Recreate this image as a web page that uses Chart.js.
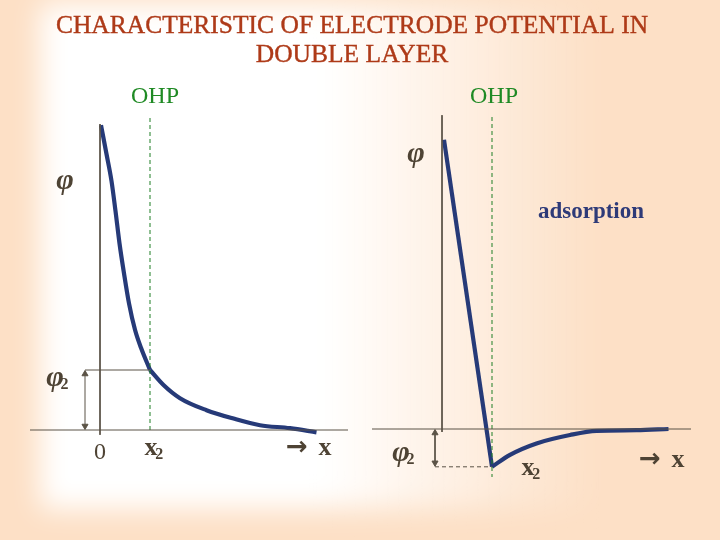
<!DOCTYPE html>
<html>
<head>
<meta charset="utf-8">
<script src="https://cdn.jsdelivr.net/npm/chart.js@4"></script>
<style>
  html, body { margin: 0; padding: 0; }
  body { width: 720px; height: 540px; overflow: hidden; position: relative; background: #fde0c6; }
  .glow {
    position: absolute; left: 40px; top: 4px; width: 560px; height: 505px;
    background: linear-gradient(to right, #ffffff 0%, #ffffff 50%, rgba(255,255,255,0) 100%);
    filter: blur(14px);
  }
  #wrap { position: absolute; left: 0; top: 0; width: 720px; height: 540px; }
</style>
</head>
<body>
<div class="glow"></div>
<div id="wrap"><canvas id="myChart"></canvas></div>
<script>
// left panel: potential falls off smoothly (distance in units of x2, potential in units of phi2)
const leftDistA = [0.02, 0.13, 0.23, 0.31, 0.39, 0.48, 0.58, 0.70, 0.82, 1.0]
const leftPotA  = [5.08, 4.60, 4.15, 3.65, 3.11, 2.61, 2.11, 1.67, 1.37, 1.0]
const leftDistB = [1.0, 1.27, 1.6, 2.13, 2.67, 3.2, 3.8, 4.33]
const leftPotB  = [1.0, 0.75, 0.53, 0.33, 0.19, 0.08, 0.03, -0.04]

// right panel: specific adsorption, potential overshoots below zero
const rightDistA = [0.04, 1.0]
const rightPotA  = [4.82, -0.63]
const rightDistB = [1.0, 1.36, 1.89, 2.56, 3.09, 3.89, 4.53]
const rightPotB  = [-0.63, -0.43, -0.24, -0.1, -0.03, -0.02, 0]

const x2 = 1       // outer Helmholtz plane
const phi2L = 1
const phi2R = -0.63

const toXY = (xs, ys) => xs.map((x, i) => ({ x: x, y: ys[i] }))

const axisColor = '#5b5346'
const curveColor = '#263a78'
const ohpColor = '#1f7f24'
const textColor = '#4e4334'
const serif = '"Liberation Serif", "Times New Roman", serif'

function line(data, color, width, dash, axes) {
  return {
    data: data, borderColor: color, borderWidth: width, borderDash: dash || [],
    pointRadius: 0, tension: 0, xAxisID: axes[0], yAxisID: axes[1]
  }
}
function arrow(u, v0, v1, axes) {
  const inset = 4 / 60
  const s = v1 > v0 ? 1 : -1
  return {
    data: [{ x: u, y: v0 + s * inset }, { x: u, y: v1 - s * inset }],
    borderColor: axisColor, backgroundColor: axisColor, borderWidth: 1,
    pointStyle: 'triangle', pointRadius: 3.5, pointRotation: s > 0 ? [180, 0] : [0, 180],
    tension: 0, xAxisID: axes[0], yAxisID: axes[1]
  }
}
function curve(data, mode, axes) {
  return {
    data: data, borderColor: curveColor, borderWidth: 4.2, pointRadius: 0,
    cubicInterpolationMode: mode, tension: mode === 'monotone' ? 0.4 : 0,
    borderCapStyle: 'butt', borderJoinStyle: 'round', xAxisID: axes[0], yAxisID: axes[1]
  }
}

const L = ['xL', 'yL']
const R = ['xR', 'yR']

const datasets = [
  line([{ x: -1.4, y: 0 }, { x: 4.96, y: 0 }], axisColor, 1, null, L),
  line([{ x: 0, y: 5.1 }, { x: 0, y: -0.08 }], axisColor, 1, null, L),
  line([{ x: x2, y: 5.2 }, { x: x2, y: 0 }], ohpColor, 1, [4, 3], L),
  line([{ x: -0.3, y: phi2L }, { x: x2, y: phi2L }], axisColor, 1, null, L),
  arrow(-0.3, 0, phi2L, L),
  curve(toXY(leftDistA, leftPotA), 'monotone', L),
  curve(toXY(leftDistB, leftPotB), 'monotone', L),

  line([{ x: -1.4, y: 0 }, { x: 4.98, y: 0 }], axisColor, 1, null, R),
  line([{ x: 0, y: 5.23 }, { x: 0, y: -0.05 }], axisColor, 1, null, R),
  line([{ x: x2, y: 5.2 }, { x: x2, y: -0.8 }], ohpColor, 1, [4, 3], R),
  line([{ x: -0.14, y: phi2R }, { x: x2, y: phi2R }], axisColor, 1, [4, 3], R),
  arrow(-0.14, 0, phi2R, R),
  curve(toXY(rightDistA, rightPotA), 'default', R),
  curve(toXY(rightDistB, rightPotB), 'monotone', R)
]

// text annotations, placed in each panel's data units
const phiFont = 'italic bold 30px ' + serif
const xFont = 'bold 26px ' + serif
const arrowFont = 'bold 26px "DejaVu Sans", sans-serif'
const labels = [
  { p: 'L', u: 1.1, v: 5.55, t: 'OHP', f: '24px ' + serif, c: '#1f8a24' },
  { p: 'R', u: 1.04, v: 5.53, t: 'OHP', f: '24px ' + serif, c: '#1f8a24' },
  { p: 'L', u: -0.7, v: 4.15, t: 'φ', f: phiFont, c: textColor },
  { p: 'R', u: -0.52, v: 4.58, t: 'φ', f: phiFont, c: textColor },
  { p: 'L', u: -0.9, v: 0.87, t: 'φ', s: '2', f: phiFont, c: textColor },
  { p: 'R', u: -0.82, v: -0.4, t: 'φ', s: '2', f: phiFont, c: textColor },
  { p: 'L', u: 0, v: -0.38, t: '0', f: '24px ' + serif, c: textColor },
  { p: 'L', u: 1.02, v: -0.3, t: 'x', s: '2', f: xFont, c: textColor },
  { p: 'R', u: 1.72, v: -0.65, t: 'x', s: '2', f: xFont, c: textColor },
  { p: 'L', u: 3.94, v: -0.3, t: '→', f: arrowFont, c: textColor },
  { p: 'L', u: 4.5, v: -0.3, t: 'x', f: xFont, c: textColor },
  { p: 'R', u: 4.16, v: -0.52, t: '→', f: arrowFont, c: textColor },
  { p: 'R', u: 4.72, v: -0.52, t: 'x', f: xFont, c: textColor },
  { p: 'R', u: 2.98, v: 3.62, t: 'adsorption', f: 'bold 23px ' + serif, c: '#2e3a78' }
]
const titleLines = ['CHARACTERISTIC OF ELECTRODE POTENTIAL IN', 'DOUBLE LAYER']

const textPlugin = {
  id: 'texts',
  afterDatasetsDraw(chart) {
    const ctx = chart.ctx
    ctx.save()
    ctx.textBaseline = 'middle'
    ctx.textAlign = 'center'
    ctx.fillStyle = '#ae3a18'
    ctx.strokeStyle = '#ae3a18'
    ctx.lineWidth = 0.4
    ctx.font = '25.5px ' + serif
    titleLines.forEach((t, i) => {
      ctx.fillText(t, 352, 26 + i * 29)
      ctx.strokeText(t, 352, 26 + i * 29)
    })
    labels.forEach(l => {
      const px = chart.scales['x' + l.p].getPixelForValue(l.u)
      const py = chart.scales['y' + l.p].getPixelForValue(l.v)
      ctx.font = l.f
      ctx.fillStyle = l.c
      ctx.textAlign = 'center'
      ctx.fillText(l.t, px, py)
      if (l.s) {
        const w = ctx.measureText(l.t).width
        ctx.font = 'bold 16px ' + serif
        ctx.textAlign = 'left'
        ctx.fillText(l.s, px + w * 0.32, py + 7)
      }
    })
    ctx.restore()
  }
}

const hidden = (min, max) => ({ type: 'linear', display: false, min: min, max: max })

new Chart(document.getElementById('myChart'), {
  type: 'line',
  data: { datasets: datasets },
  options: {
    responsive: true,
    maintainAspectRatio: false,
    animation: false,
    layout: { padding: 0, autoPadding: false },
    plugins: { legend: { display: false }, tooltip: { enabled: false }, title: { display: false } },
    scales: {
      xL: hidden(-2, 12.4),
      yL: hidden(-110 / 60, 430 / 60),
      xR: hidden(-8.84, 5.56),
      yR: hidden(-111 / 60, 429 / 60)
    }
  },
  plugins: [textPlugin]
})
</script>
</body>
</html>
